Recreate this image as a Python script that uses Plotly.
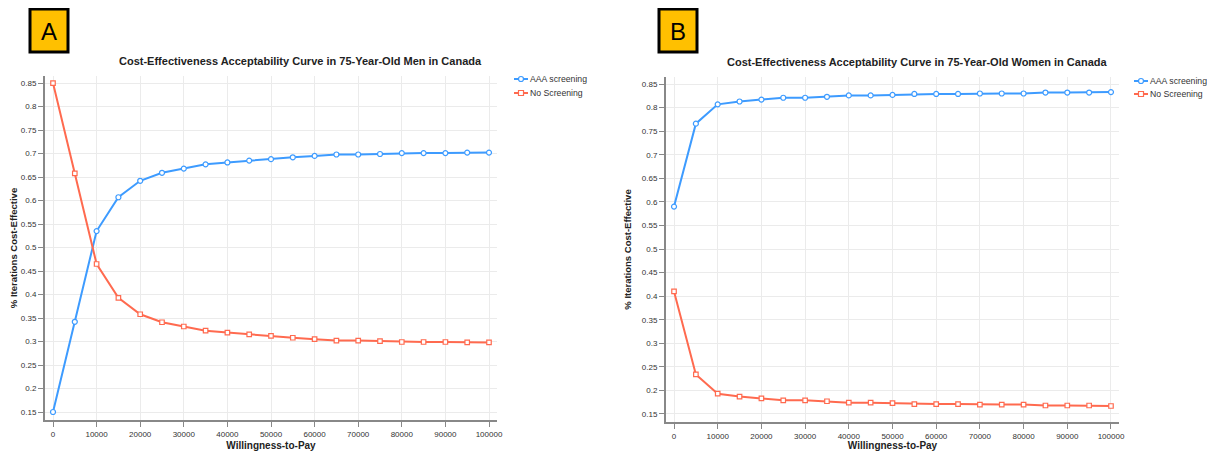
import plotly.graph_objects as go

wtp = [0, 5000, 10000, 15000, 20000, 25000, 30000, 35000, 40000, 45000, 50000,
       55000, 60000, 65000, 70000, 75000, 80000, 85000, 90000, 95000, 100000]

men_aaa = [0.150, 0.342, 0.535, 0.607, 0.642, 0.659, 0.668, 0.677, 0.681, 0.685, 0.688,
           0.692, 0.695, 0.698, 0.698, 0.699, 0.701, 0.701, 0.701, 0.702, 0.702]
men_none = [0.850, 0.658, 0.465, 0.393, 0.358, 0.341, 0.332, 0.323, 0.319, 0.315, 0.312,
            0.308, 0.305, 0.302, 0.302, 0.301, 0.299, 0.299, 0.299, 0.298, 0.298]

women_aaa = [0.590, 0.766, 0.807, 0.813, 0.817, 0.821, 0.821, 0.823, 0.826, 0.826, 0.827,
             0.829, 0.829, 0.829, 0.830, 0.830, 0.830, 0.832, 0.832, 0.832, 0.833]
women_none = [0.410, 0.234, 0.193, 0.187, 0.183, 0.179, 0.179, 0.177, 0.174, 0.174, 0.173,
              0.171, 0.171, 0.171, 0.170, 0.170, 0.170, 0.168, 0.168, 0.168, 0.167]

y_ticks = [0.15, 0.2, 0.25, 0.3, 0.35, 0.4, 0.45, 0.5, 0.55, 0.6, 0.65, 0.7, 0.75, 0.8, 0.85]
x_ticks = [0, 10000, 20000, 30000, 40000, 50000, 60000, 70000, 80000, 90000, 100000]

series_names = ["AAA screening", "No Screening"]
title_men = "Cost-Effectiveness Acceptability Curve in 75-Year-Old Men in Canada"
title_women = "Cost-Effectiveness Acceptability Curve in 75-Year-Old Women in Canada"

BLUE = "#3d9bff"
RED = "#ff6a4f"
FONT = "Liberation Sans, Arial, sans-serif"
OFF = 8  # page body margin
W, H = 1215 - OFF, 451 - OFF


def px(x):
    return (x - OFF) / W


def py(y):
    return (H - (y - OFF)) / H


fig = go.Figure()


def add_series(x, y, name, color, symbol, size, xa, ya):
    fig.add_trace(go.Scatter(
        x=x, y=y, name=name, mode="lines+markers", showlegend=False,
        line=dict(color=color, width=2),
        marker=dict(symbol=symbol, size=size, color="white", line=dict(color=color, width=1.2)),
        xaxis=xa, yaxis=ya))


add_series(wtp, men_aaa, series_names[0], BLUE, "circle", 5, "x", "y")
add_series(wtp, men_none, series_names[1], RED, "square", 4.5, "x", "y")
add_series(wtp, women_aaa, series_names[0], BLUE, "circle", 5, "x2", "y2")
add_series(wtp, women_none, series_names[1], RED, "square", 4.5, "x2", "y2")


def xaxis(domain, anchor):
    return dict(domain=domain, anchor=anchor, range=[-1835, 101835], tickvals=x_ticks,
                tickformat="d", showgrid=True, gridcolor="#ebebeb", gridwidth=1,
                showline=True, linecolor="#888888", linewidth=2, ticks="outside",
                ticklen=5, tickcolor="#888888", zeroline=False, automargin=False,
                tickfont=dict(size=8, color="#333333", family=FONT),
                title=dict(text="<b>Willingness-to-Pay</b>",
                           font=dict(size=10, color="#222222", family=FONT), standoff=4))


def yaxis(domain, anchor):
    return dict(domain=domain, anchor=anchor, range=[0.133, 0.865], tickvals=y_ticks,
                ticktext=[("%g" % v) for v in y_ticks],
                showgrid=True, gridcolor="#ebebeb", gridwidth=1,
                showline=True, linecolor="#888888", linewidth=2, ticks="outside",
                ticklen=5, tickcolor="#888888", zeroline=False, automargin=False,
                tickfont=dict(size=8, color="#333333", family=FONT),
                title=dict(text="<b>% Iterations Cost-Effective</b>",
                           font=dict(size=9.5, color="#222222", family=FONT), standoff=8))


fig.update_layout(
    width=W, height=H,
    margin=dict(l=0, r=0, t=0, b=0, autoexpand=False),
    paper_bgcolor="white", plot_bgcolor="white",
    font=dict(family=FONT),
    showlegend=False,
    xaxis=xaxis([px(45), px(497)], "y"),
    yaxis=yaxis([py(420), py(76)], "x"),
    xaxis2=xaxis([px(666), px(1119)], "y2"),
    yaxis2=yaxis([py(422), py(77)], "x2"),
)

# titles
fig.add_annotation(text="<b>" + title_men + "</b>", x=px(300), y=py(61), xref="paper", yref="paper",
                   showarrow=False, font=dict(size=11, color="#222222", family=FONT),
                   xanchor="center", yanchor="middle")
fig.add_annotation(text="<b>" + title_women + "</b>", x=px(917), y=py(62), xref="paper", yref="paper",
                   showarrow=False, font=dict(size=11, color="#222222", family=FONT),
                   xanchor="center", yanchor="middle")

# legends (compact, drawn manually to match the reference spacing)
for lx, rows in ((514, (79, 93)), (1134, (81, 94))):
    for name, color, symbol, ly in ((series_names[0], BLUE, "circle", rows[0]),
                                    (series_names[1], RED, "rect", rows[1])):
        fig.add_shape(type="line", xref="paper", yref="paper",
                      x0=px(lx), x1=px(lx + 14), y0=py(ly), y1=py(ly),
                      line=dict(color=color, width=2))
        fig.add_shape(type=symbol, xref="paper", yref="paper",
                      x0=px(lx + 4.5), x1=px(lx + 9.5), y0=py(ly + 2.5), y1=py(ly - 2.5),
                      fillcolor="white", line=dict(color=color, width=1.2))
        fig.add_annotation(text=name, x=px(lx + 15), y=py(ly), xref="paper", yref="paper",
                           showarrow=False, font=dict(size=8.7, color="#333333", family=FONT),
                           xanchor="left", yanchor="middle", borderpad=0)

# panel labels
for label, x0 in (("A", 30), ("B", 659)):
    fig.add_shape(type="rect", xref="paper", yref="paper",
                  x0=px(x0), x1=px(x0 + 38), y0=py(52), y1=py(9),
                  fillcolor="#FFC000", line=dict(color="black", width=3))
    fig.add_annotation(text=label, x=px(x0 + 19), y=py(31), xref="paper", yref="paper",
                       showarrow=False, font=dict(size=24, color="black", family=FONT),
                       xanchor="center", yanchor="middle")

fig.write_html("out.html")
